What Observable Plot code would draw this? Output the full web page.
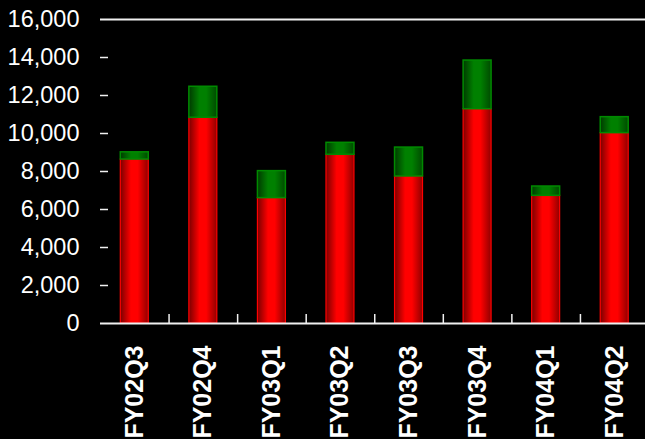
<!DOCTYPE html>
<html>
<head>
<meta charset="utf-8">
<script src="https://cdn.jsdelivr.net/npm/d3@7"></script>
<script src="https://cdn.jsdelivr.net/npm/@observablehq/plot@0.6"></script>
<style>
  html, body { margin: 0; padding: 0; background: #000; overflow: hidden; }
</style>
</head>
<body>
<div id="chart"></div>
<script>
const categories = ["FY02Q3", "FY02Q4", "FY03Q1", "FY03Q2", "FY03Q3", "FY03Q4", "FY04Q1", "FY04Q2"];
const redValues = [8630, 10830, 6600, 8880, 7740, 11280, 6720, 10020];
const greenValues = [380, 1630, 1420, 630, 1520, 2560, 490, 840];
const yTicks = [0, 2000, 4000, 6000, 8000, 10000, 12000, 14000, 16000];

const redData = categories.map((c, i) => ({cat: c, y1: 0, y2: redValues[i]}));
const greenData = categories.map((c, i) => ({cat: c, y1: redValues[i], y2: redValues[i] + greenValues[i]}));

const W = 645, H = 439;
const left = 100, right = 648.5;
const step = (right - left) / categories.length;

const chart = Plot.plot({
  width: W,
  height: H,
  marginLeft: 100,
  marginRight: 0,
  marginTop: 19,
  marginBottom: 116,
  style: {background: "#000", color: "#fff", fontFamily: "'Liberation Sans', Arial, sans-serif", overflow: "visible"},
  x: {domain: categories, range: [left, right], padding: 0, round: false, label: null},
  y: {domain: [0, 16000], label: null},
  marks: [
    Plot.barY(redData, {x: "cat", y1: "y1", y2: "y2", fill: "url(#redGrad)", stroke: "#ff0000", strokeWidth: 1.2, insetLeft: 20.3, insetRight: 20.3}),
    Plot.barY(greenData, {x: "cat", y1: "y1", y2: "y2", fill: "url(#greenGrad)", stroke: "#008a00", strokeWidth: 1.5, insetLeft: 20.3, insetRight: 20.3}),
    Plot.ruleY([0, 16000], {stroke: "#f0f0f0", strokeWidth: 2}),
    Plot.axisY({ticks: yTicks, tickSize: 0, tickPadding: 21, tickFormat: d3.format(","), fontSize: 23.5, line: true, stroke: "#f0f0f0", strokeWidth: 2}),
    Plot.axisY({ticks: yTicks.slice(1, -1), tickSize: 8, dx: 8, tickFormat: () => "", stroke: "#f0f0f0", strokeWidth: 1.5}),
    Plot.axisX({tickSize: 9, dx: step / 2, dy: -9, tickFormat: () => "", stroke: "#f0f0f0", strokeWidth: 1.5}),
    Plot.axisX({tickSize: 0, tickPadding: 22, tickRotate: -90, fontSize: 25, fontWeight: "bold"})
  ]
});

const svg = d3.select(chart);
const defs = svg.insert("defs", ":first-child");
const rg = defs.append("linearGradient").attr("id", "redGrad").attr("x1", 0).attr("x2", 1).attr("y1", 0).attr("y2", 0);
rg.append("stop").attr("offset", "0%").attr("stop-color", "#7a0000");
rg.append("stop").attr("offset", "38%").attr("stop-color", "#ff0000");
rg.append("stop").attr("offset", "62%").attr("stop-color", "#ff0000");
rg.append("stop").attr("offset", "100%").attr("stop-color", "#900000");
const gg = defs.append("linearGradient").attr("id", "greenGrad").attr("x1", 0).attr("x2", 1).attr("y1", 0).attr("y2", 0);
gg.append("stop").attr("offset", "0%").attr("stop-color", "#003a00");
gg.append("stop").attr("offset", "38%").attr("stop-color", "#008000");
gg.append("stop").attr("offset", "62%").attr("stop-color", "#008000");
gg.append("stop").attr("offset", "100%").attr("stop-color", "#004a00");

document.getElementById("chart").appendChild(chart);
</script>
</body>
</html>
